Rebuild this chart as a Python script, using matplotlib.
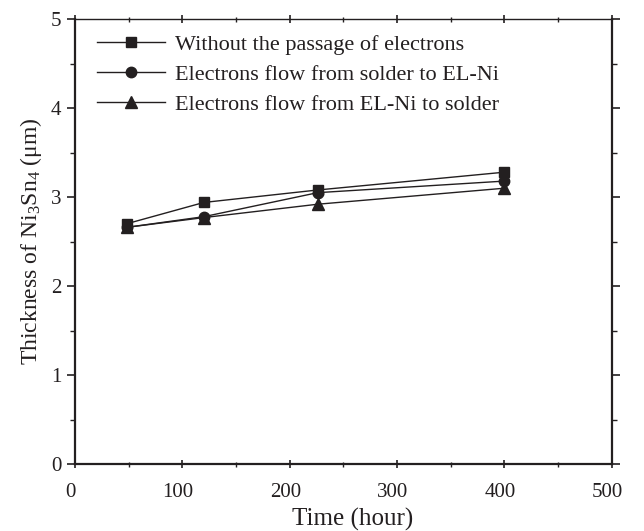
import matplotlib
matplotlib.use('Agg')
import matplotlib.pyplot as plt
import matplotlib.transforms as mtransforms
from matplotlib.ticker import MultipleLocator

plt.rcParams['font.family'] = ['Liberation Serif', 'DejaVu Serif']
plt.rcParams['mathtext.fontset'] = 'custom'
plt.rcParams['mathtext.rm'] = 'Liberation Serif'
plt.rcParams['mathtext.it'] = 'Liberation Serif:italic'

# data
time_h = [48, 120, 226, 400]
no_current = [2.70, 2.94, 3.08, 3.28]
solder_to_ni = [2.66, 2.78, 3.05, 3.18]
ni_to_solder = [2.66, 2.77, 2.92, 3.10]

labels = ['Without the passage of electrons',
          'Electrons flow from solder to EL-Ni',
          'Electrons flow from EL-Ni to solder']

fig = plt.figure(figsize=(6.44, 5.31), dpi=100)
ax = fig.add_axes([0.1165, 0.126, 0.8335, 0.838])

c = '#231f20'
ax.plot(time_h, no_current, '-s', color=c, lw=1.0, ms=7, label=labels[0])
ax.plot(time_h, solder_to_ni, '-o', color=c, lw=1.0, ms=7.5, label=labels[1])
ax.plot(time_h, ni_to_solder, '-^', color=c, lw=1.0, ms=8, label=labels[2])

ax.set_xlim(0, 500)
ax.set_ylim(0, 5)
ax.xaxis.set_major_locator(MultipleLocator(100))
ax.xaxis.set_minor_locator(MultipleLocator(50))
ax.yaxis.set_major_locator(MultipleLocator(1))
ax.yaxis.set_minor_locator(MultipleLocator(0.5))

for s in ['left', 'bottom', 'right']:
    ax.spines[s].set_linewidth(1.6)
ax.spines['top'].set_linewidth(1.0)
for s in ax.spines.values():
    s.set_color(c)

ax.tick_params(which='major', direction='out', length=6, width=1.2, labelsize=15,
               colors=c, right=True, top=True)
ax.tick_params(which='minor', direction='out', length=3.6, width=1.0,
               colors=c, right=True, top=True)
ax.tick_params(axis='x', which='both', top=True, direction='inout')
ax.tick_params(axis='x', which='major', pad=10.5)
ax.tick_params(axis='y', which='major', pad=4)

# x tick labels sit a little left of their ticks in the original
shift = mtransforms.ScaledTranslation(-0.045, 0, fig.dpi_scale_trans)
for lbl in ax.get_xticklabels():
    lbl.set_transform(lbl.get_transform() + shift)

ax.set_xlabel('Time (hour)', fontsize=18, color=c)
ax.xaxis.set_label_coords(0.517, -0.098)
ax.set_ylabel('Thickness of Ni$_3$Sn$_4$ ($\\mathrm{\\mu m}$)', fontsize=17, color=c, labelpad=5)

leg = ax.legend(loc='upper left', frameon=False, fontsize=16, handlelength=3.05,
                handletextpad=0.45, labelspacing=0.41, borderaxespad=0.3,
                bbox_to_anchor=(0.012, 1.0))
for t in leg.get_texts():
    t.set_color(c)

fig.savefig('out.png', dpi=100)
